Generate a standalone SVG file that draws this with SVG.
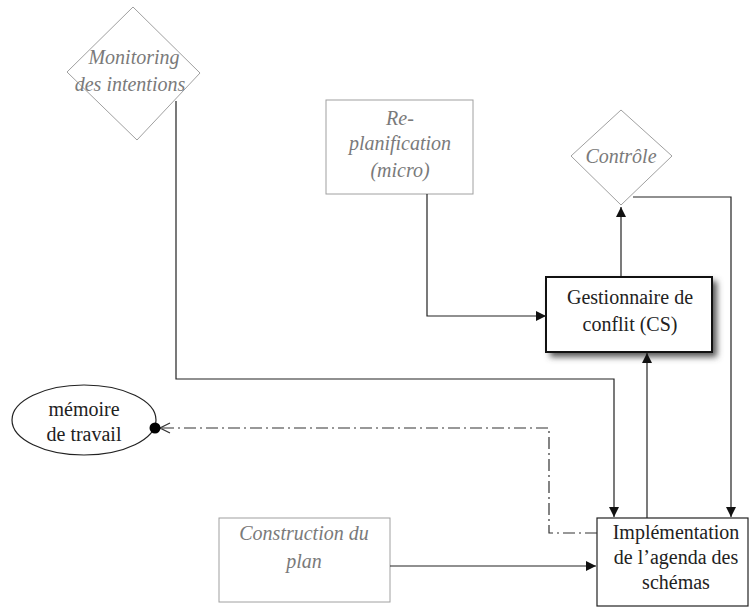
<svg xmlns="http://www.w3.org/2000/svg" width="749" height="607" viewBox="0 0 749 607">
<defs>
<style>
.gray{fill:#fff;stroke:#a0a0a0;stroke-width:1}
.gt{font-family:'Liberation Serif','Times New Roman',serif;font-style:italic;font-size:20px;fill:#7a7a7a;text-anchor:middle}
.bt{font-family:'Liberation Serif','Times New Roman',serif;font-size:20px;fill:#222;text-anchor:middle}
.ln{fill:none;stroke:#222;stroke-width:1.2}
.dd{fill:none;stroke:#333;stroke-width:1.2;stroke-dasharray:12 4 2 4}
</style>
<marker id="ah" viewBox="0 0 10 10" refX="10" refY="5" markerWidth="10" markerHeight="10" markerUnits="userSpaceOnUse" orient="auto">
<path d="M0,0 L10,5 L0,10 z" fill="#111"/>
</marker>
<marker id="oa" viewBox="0 0 12 12" refX="11" refY="6" markerWidth="12" markerHeight="12" markerUnits="userSpaceOnUse" orient="auto">
<path d="M1,1 L11,6 L1,11" fill="none" stroke="#333" stroke-width="1.2"/>
</marker>
<filter id="sh" x="-10%" y="-10%" width="130%" height="140%">
<feGaussianBlur stdDeviation="3"/>
</filter>
</defs>
<rect width="749" height="607" fill="#fff"/>

<g id="monitoring">
<polygon class="gray" points="133,7 200,73 137,140 67,72"/>
<text class="gt" x="134" y="64">Monitoring</text>
<text class="gt" x="130" y="91">des intentions</text>
</g>

<g id="replanification">
<rect class="gray" x="326" y="100" width="147" height="94"/>
<text class="gt" x="400" y="125">Re-</text>
<text class="gt" x="400" y="150">planification</text>
<text class="gt" x="400" y="177">(micro)</text>
</g>

<g id="controle">
<polygon class="gray" points="621,110 672,156 621,205 571,156"/>
<text class="gt" x="621" y="163">Contrôle</text>
</g>

<g id="gestionnaire">
<rect x="550" y="281" width="167" height="76" fill="#555" filter="url(#sh)"/>
<rect x="546" y="277" width="166" height="75" fill="#fff" stroke="#111" stroke-width="2"/>
<text class="bt" x="630" y="304">Gestionnaire de</text>
<text class="bt" x="630" y="331">conflit (CS)</text>
</g>

<g id="memoire">
<ellipse cx="84" cy="420" rx="72" ry="35" fill="#fff" stroke="#222" stroke-width="1.2"/>
<text class="bt" x="84" y="416">mémoire</text>
<text class="bt" x="84" y="441">de travail</text>
</g>

<g id="construction">
<rect class="gray" x="219" y="518" width="171" height="84"/>
<text class="gt" x="304" y="540">Construction du</text>
<text class="gt" x="304" y="568">plan</text>
</g>

<g id="implementation">
<rect x="597" y="518" width="151" height="88" fill="#fff" stroke="#222" stroke-width="1.2"/>
<text class="bt" x="676" y="539">Implémentation</text>
<text class="bt" x="676" y="564">de l’agenda des</text>
<text class="bt" x="676" y="589">schémas</text>
</g>

<g id="connectors">
<path class="ln" d="M176,101 V379 H614 V517" marker-end="url(#ah)"/>
<path class="ln" d="M427,194 V316 H546" marker-end="url(#ah)"/>
<path class="ln" d="M621,276 V207" marker-end="url(#ah)"/>
<path class="ln" d="M633,197 H731 V517" marker-end="url(#ah)"/>
<path class="ln" d="M647,518 V353" marker-end="url(#ah)"/>
<path class="ln" d="M390,566 H596" marker-end="url(#ah)"/>
<path class="dd" d="M597,533 H549 V428 H160" marker-end="url(#oa)"/>
<circle cx="155" cy="428" r="5.5" fill="#000"/>
</g>
</svg>
